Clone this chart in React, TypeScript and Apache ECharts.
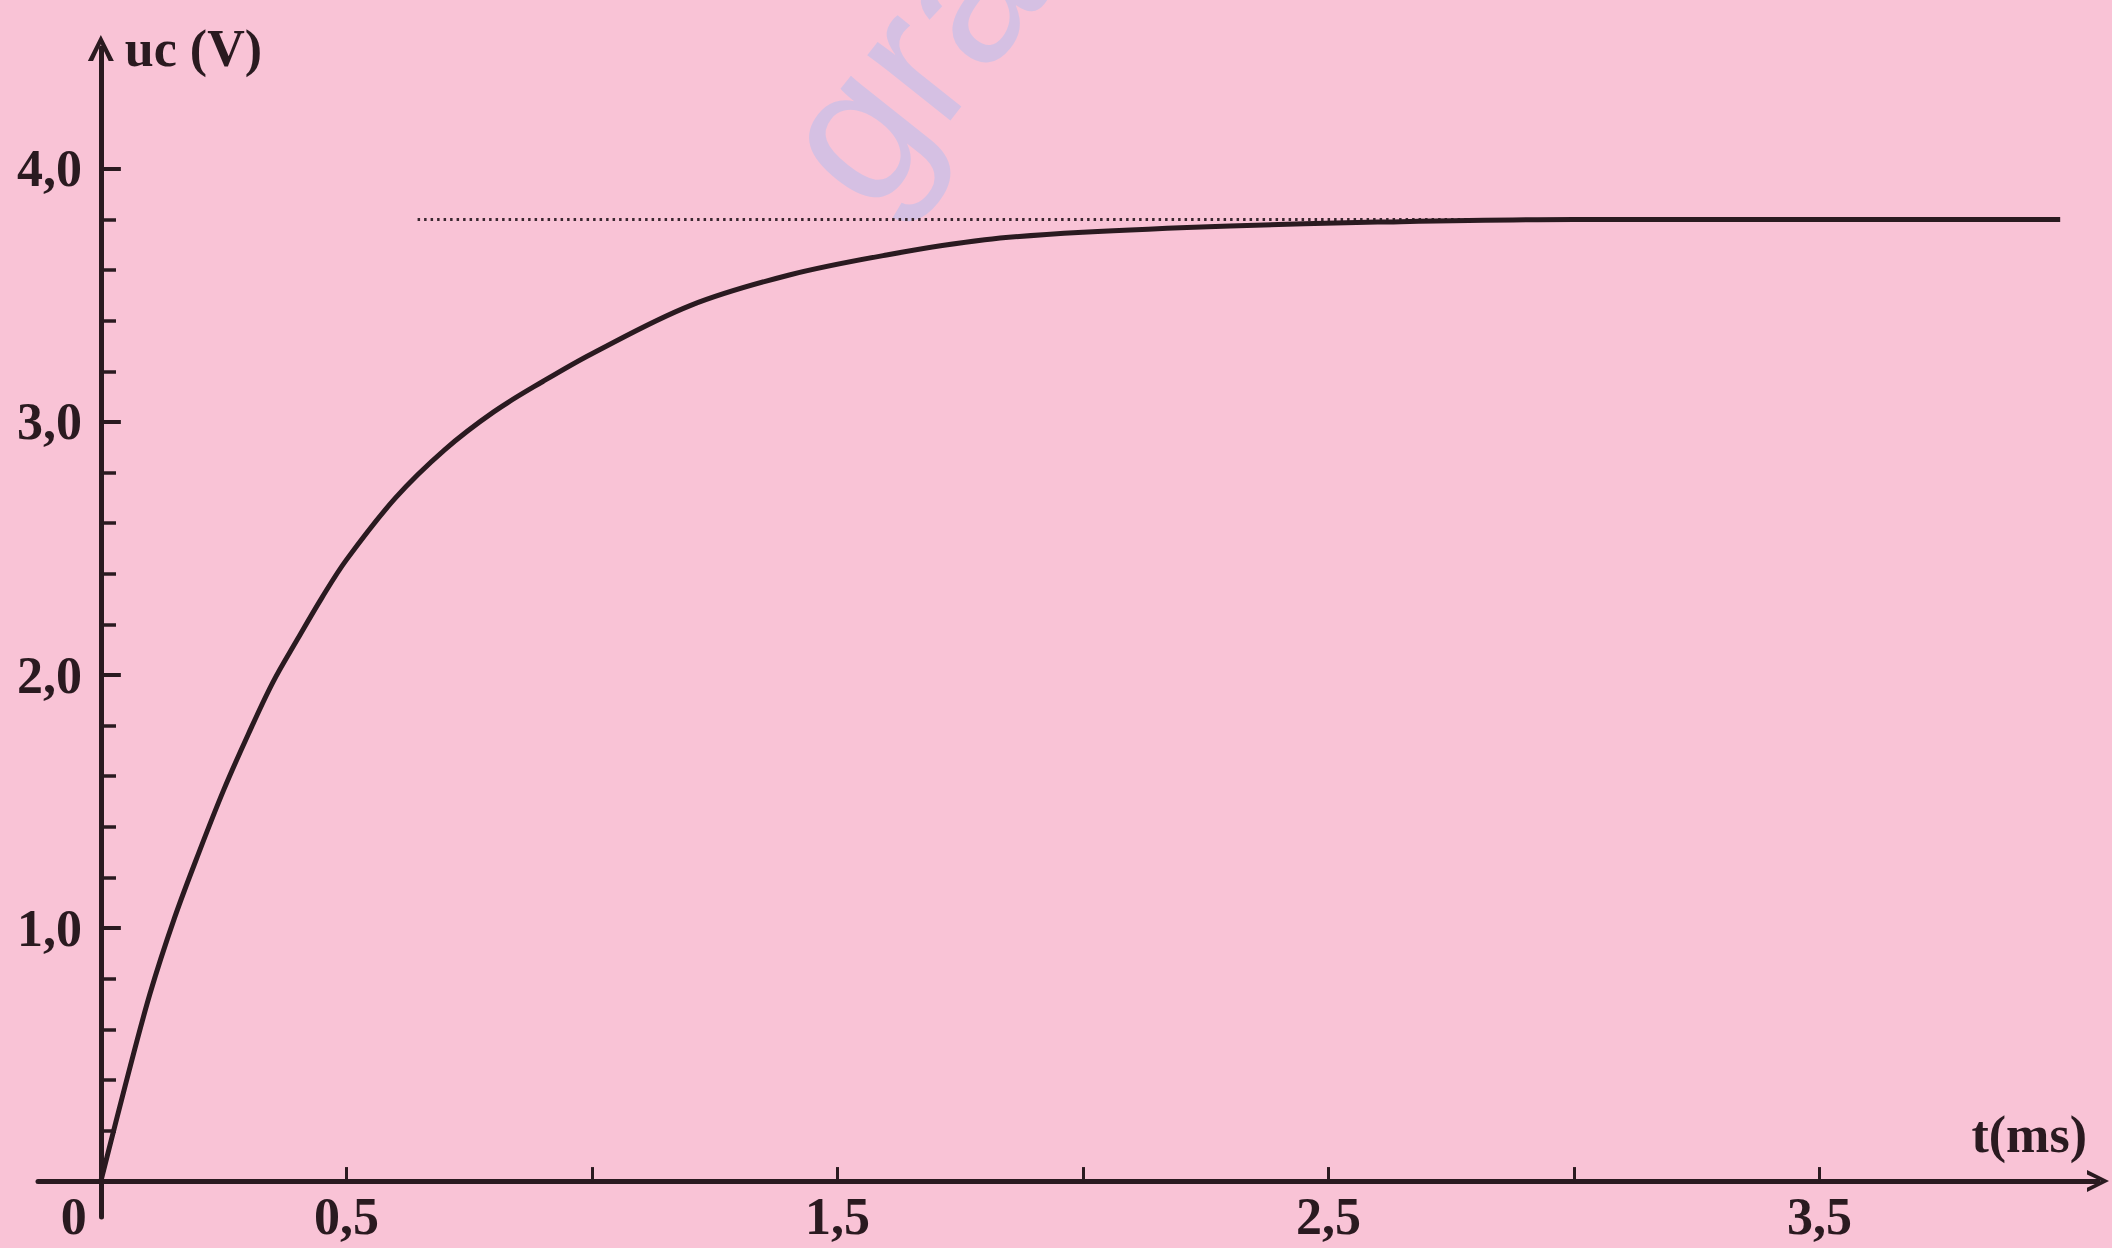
import React, { useEffect, useRef } from "react";
import * as echarts from "echarts";

// Capacitor charging curve uc(t)
const tValues = [0, 0.05, 0.1, 0.15, 0.2, 0.25, 0.3, 0.35, 0.4, 0.45, 0.5, 0.6, 0.7, 0.8, 0.9, 1.0, 1.2, 1.4, 1.6, 1.8, 2.0, 2.3, 2.6, 3.0, 3.5, 3.99];
const ucValues = [0, 0.38, 0.74, 1.04, 1.3, 1.545, 1.765, 1.97, 2.14, 2.305, 2.455, 2.7, 2.89, 3.04, 3.16, 3.27, 3.46, 3.58, 3.66, 3.72, 3.75, 3.775, 3.79, 3.8, 3.8, 3.8];

// Asymptote (dotted)
const asymptoteT = [0.645, 3.99];
const asymptoteU = 3.8;

// Axis ticks and labels
const xTickValues = [0.5, 1, 1.5, 2, 2.5, 3, 3.5];
const xLabelValues = [0, 0.5, 1.5, 2.5, 3.5];
const yMajorValues = [1, 2, 3, 4];
const yMinorValues = [0.2, 0.4, 0.6, 0.8, 1.2, 1.4, 1.6, 1.8, 2.2, 2.4, 2.6, 2.8, 3.2, 3.4, 3.6, 3.8];
const xAxisName = "t(ms)";
const yAxisName = "uc (V)";

const INK = "#2a1a20";
const FONT = "Liberation Serif";
const chevron = "path://M0,10 L5,0 L10,10 L8,10 L5,3.6 L2,10 Z";

const fmt = (v: number) => v.toFixed(1).replace(".", ",");

export default function App() {
  const ref = useRef<HTMLDivElement>(null);
  useEffect(() => {
    if (!ref.current) return;
    const chart = echarts.init(ref.current, null, { renderer: "svg" });
    const curve = tValues.map((t, i) => [t, ucValues[i]]);
    const asym = asymptoteT.map((t) => [t, asymptoteU]);
    chart.setOption({
      animation: false,
      backgroundColor: "#F9C3D6",
      grid: {
        left: 38,
        right: 14,
        top: 48,
        bottom: 31,
        containLabel: false,
        outerBoundsMode: "none",
      },
      graphic: [
        {
          type: "text",
          x: 908,
          y: 62,
          rotation: 0.9,
          z: 1,
          style: {
            text: "gra",
            fontSize: 200,
            fontFamily: "Liberation Sans",
            fill: "#D5C0E3",
            align: "center",
            verticalAlign: "middle",
          },
        },
      ],
      xAxis: {
        type: "value",
        min: -0.128,
        max: 4.067,
        name: xAxisName,
        nameLocation: "end",
        nameGap: -11,
        nameTextStyle: {
          fontFamily: FONT,
          fontWeight: "bold",
          fontSize: 52,
          color: INK,
          align: "right",
          verticalAlign: "bottom",
          padding: [0, 0, 21, 0],
        },
        axisLine: {
          show: true,
          onZero: true,
          symbol: ["none", chevron],
          symbolSize: [30, 22],
          lineStyle: { color: INK, width: 5 },
        },
        axisTick: {
          show: true,
          inside: true,
          length: 14,
          customValues: xTickValues,
          lineStyle: { color: INK, width: 3 },
        },
        axisLabel: {
          show: true,
          customValues: xLabelValues,
          margin: -27,
          formatter: (v: number) => (v === 0 ? "{z|0}" : "{n|" + fmt(v) + "}"),
          rich: {
            z: { fontFamily: FONT, fontWeight: "bold", fontSize: 52, lineHeight: 52, color: INK, padding: [0, 54, 0, 0] },
            n: { fontFamily: FONT, fontWeight: "bold", fontSize: 52, lineHeight: 52, color: INK },
          },
        },
        splitLine: { show: false },
      },
      yAxis: [
        {
          type: "value",
          position: "left",
          min: -0.142,
          max: 4.478,
          name: yAxisName,
          nameLocation: "end",
          nameGap: 0,
          nameTextStyle: {
            fontFamily: FONT,
            fontWeight: "bold",
            fontSize: 52,
            color: INK,
            align: "left",
            verticalAlign: "middle",
            padding: [0, 0, 0, 24],
          },
          axisLine: {
            show: true,
            onZero: true,
            symbol: ["none", chevron],
            symbolSize: [34, 26],
            lineStyle: { color: INK, width: 5 },
          },
          axisTick: {
            show: true,
            inside: true,
            length: 20,
            customValues: yMajorValues,
            lineStyle: { color: INK, width: 4 },
          },
          axisLabel: {
            show: true,
            customValues: yMajorValues,
            margin: -44,
            formatter: (v: number) => fmt(v),
            fontFamily: FONT,
            fontWeight: "bold",
            fontSize: 52,
            color: INK,
          },
          splitLine: { show: false },
        },
        {
          type: "value",
          position: "right",
          offset: -1997,
          min: -0.142,
          max: 4.478,
          axisLine: { show: true, onZero: false, lineStyle: { color: INK, width: 5, opacity: 0 } },
          axisTick: {
            show: true,
            inside: false,
            length: 15,
            customValues: yMinorValues,
            lineStyle: { color: INK, width: 3.5 },
          },
          axisLabel: { show: false },
          splitLine: { show: false },
        },
      ],
      series: [
        {
          type: "line",
          data: asym,
          showSymbol: false,
          symbol: "none",
          lineStyle: { color: "#3a2830", width: 3, type: [2.5, 4] },
          z: 3,
        },
        {
          type: "line",
          data: curve,
          smooth: 0.35,
          showSymbol: false,
          symbol: "none",
          lineStyle: { color: INK, width: 5 },
          z: 4,
        },
      ],
    });
    return () => chart.dispose();
  }, []);
  return (
    <div
      ref={ref}
      style={{ position: "absolute", left: 0, top: 0, width: 2112, height: 1248 }}
    />
  );
}
